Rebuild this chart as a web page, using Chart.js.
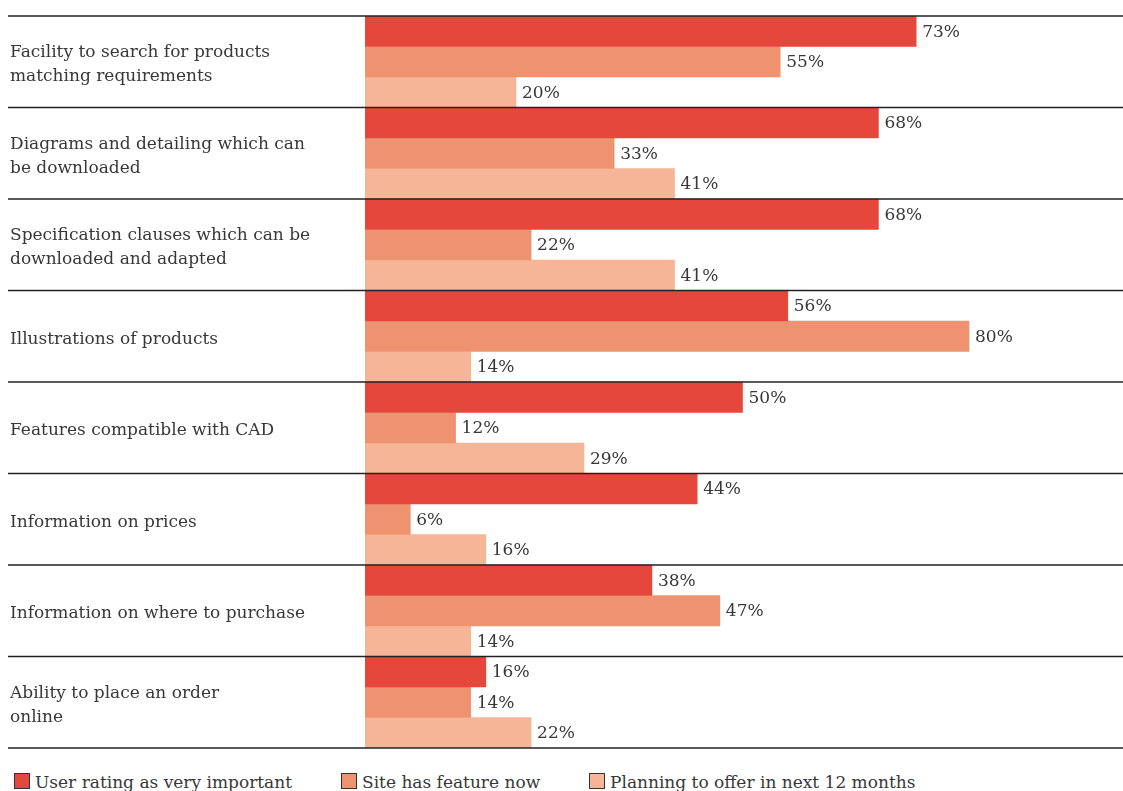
<!DOCTYPE html>
<html>
<head>
<meta charset="utf-8">
<script src="https://cdn.jsdelivr.net/npm/chart.js@4.4.1/dist/chart.umd.min.js"></script>
<style>
  html, body { margin: 0; padding: 0; background: #fff; overflow: hidden; }
  #wrap { position: relative; width: 1123px; height: 791px; }
  #box { position: absolute; left: 0; top: 0; width: 1123px; height: 760px; }
  #legend { position: absolute; left: 0; top: 773px; width: 1123px; height: 30px;
            font-family: 'DejaVu Serif', serif; font-size: 17px; color: #383838; }
  .item { position: absolute; top: 0; white-space: nowrap; line-height: 18px; }
  .swatch { display: inline-block; width: 14px; height: 14px; border: 1px solid #333;
            vertical-align: -1px; margin-right: 5px; }
</style>
</head>
<body>
<div id="wrap">
  <div id="box"><canvas id="chart"></canvas></div>
  <div id="legend"></div>
</div>
<script>
const categories = [
  ['Facility to search for products', 'matching requirements'],
  ['Diagrams and detailing which can', 'be downloaded'],
  ['Specification clauses which can be', 'downloaded and adapted'],
  'Illustrations of products',
  'Features compatible with CAD',
  'Information on prices',
  'Information on where to purchase',
  ['Ability to place an order', 'online']
];

const veryImportant = [73, 68, 68, 56, 50, 44, 38, 16];
const hasFeatureNow = [55, 33, 22, 80, 12, 6, 47, 14];
const planningToOffer = [20, 41, 41, 14, 29, 16, 14, 22];

const seriesNames = ['User rating as very important', 'Site has feature now', 'Planning to offer in next 12 months'];
const seriesColors = ['#e5473b', '#ef926f', '#f5b596'];
const legendLeft = [14, 341, 589];

const FONT = "'DejaVu Serif', serif";

// lines between the category groups, across the whole width
const separators = {
  id: 'separators',
  afterDatasetsDraw(chart) {
    const { ctx } = chart;
    const y = chart.scales.y;
    const step = y.getPixelForValue(1) - y.getPixelForValue(0);
    ctx.save();
    ctx.strokeStyle = '#222';
    ctx.lineWidth = 1.5;
    for (let i = 0; i <= categories.length; i++) {
      const py = y.getPixelForValue(i) - step / 2;
      ctx.beginPath();
      ctx.moveTo(8, py);
      ctx.lineTo(chart.width, py);
      ctx.stroke();
    }
    ctx.restore();
  }
};

// percentage next to the end of each bar
const valueLabels = {
  id: 'valueLabels',
  afterDatasetsDraw(chart) {
    const { ctx } = chart;
    ctx.save();
    ctx.font = '17px ' + FONT;
    ctx.fillStyle = '#383838';
    ctx.textAlign = 'left';
    ctx.textBaseline = 'middle';
    chart.data.datasets.forEach((ds, di) => {
      chart.getDatasetMeta(di).data.forEach((bar, i) => {
        ctx.fillText(ds.data[i] + '%', bar.x + 6, bar.y + 1);
      });
    });
    ctx.restore();
  }
};

new Chart(document.getElementById('chart'), {
  type: 'bar',
  data: {
    labels: categories,
    datasets: [veryImportant, hasFeatureNow, planningToOffer].map((data, i) => ({
      label: seriesNames[i],
      data: data,
      backgroundColor: seriesColors[i],
      borderWidth: 0,
      categoryPercentage: 1,
      barPercentage: 1
    }))
  },
  options: {
    indexAxis: 'y',
    responsive: true,
    maintainAspectRatio: false,
    animation: false,
    layout: { padding: { left: 10, right: 3, top: 16, bottom: 12 } },
    scales: {
      x: { min: 0, max: 100, display: false },
      y: {
        grid: { display: false },
        border: { display: false },
        afterFit: (scale) => {
          scale.width = 355;
          scale.paddingTop = 0;
          scale.paddingBottom = 0;
        },
        ticks: {
          crossAlign: 'far',
          padding: 0,
          labelOffset: 3,
          color: '#383838',
          font: { family: FONT, size: 17, lineHeight: 1.4 }
        }
      }
    },
    plugins: {
      legend: { display: false },
      tooltip: { enabled: false }
    }
  },
  plugins: [separators, valueLabels]
});

// legend row under the chart
const legend = document.getElementById('legend');
seriesNames.forEach((name, i) => {
  const item = document.createElement('div');
  item.className = 'item';
  item.style.left = legendLeft[i] + 'px';
  const sw = document.createElement('span');
  sw.className = 'swatch';
  sw.style.background = seriesColors[i];
  item.appendChild(sw);
  item.appendChild(document.createTextNode(name));
  legend.appendChild(item);
});
</script>
</body>
</html>
